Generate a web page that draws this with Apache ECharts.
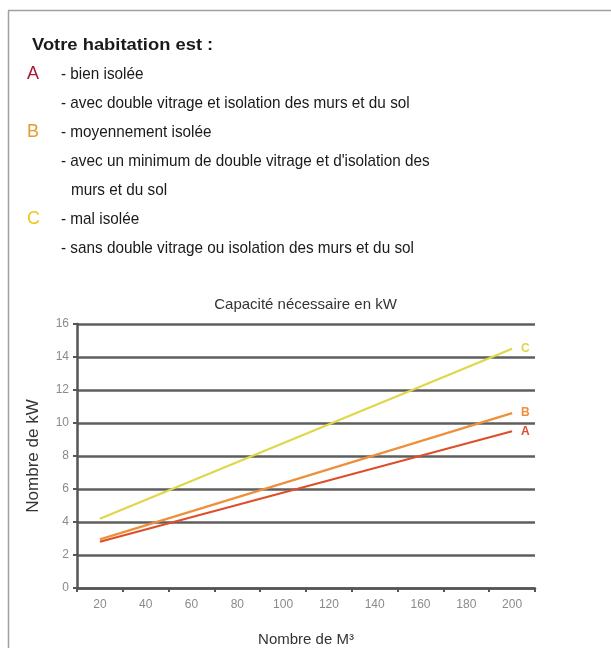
<!DOCTYPE html>
<html>
<head>
<meta charset="utf-8">
<script src="https://cdn.jsdelivr.net/npm/echarts@6/dist/echarts.min.js"></script>
<style>
  html, body { margin: 0; padding: 0; background: #fff; }
  #chart { width: 611px; height: 648px; }
</style>
</head>
<body>
<div id="chart"></div>
<script>
// volumes (m3) on the x axis
const volumes = ['20', '40', '60', '80', '100', '120', '140', '160', '180', '200'];
// kW read at 20 m3 and 200 m3, straight lines in between
const serieA = [2.8, null, null, null, null, null, null, null, null, 9.5];
const serieB = [2.95, null, null, null, null, null, null, null, null, 10.6];
const serieC = [4.2, null, null, null, null, null, null, null, null, 14.5];
const yTicks = [0, 2, 4, 6, 8, 10, 12, 14, 16];

const headerLines = [
  { tag: 'A', tagColor: '#a8192f', text: '- bien isolée' },
  { tag: '', tagColor: '', text: '- avec double vitrage et isolation des murs et du sol' },
  { tag: 'B', tagColor: '#e59a35', text: '- moyennement isolée' },
  { tag: '', tagColor: '', text: "- avec un minimum de double vitrage et d'isolation des" },
  { tag: '', tagColor: '', text: '  murs et du sol' },
  { tag: 'C', tagColor: '#ecc81c', text: '- mal isolée' },
  { tag: '', tagColor: '', text: '- sans double vitrage ou isolation des murs et du sol' }
];

const fontFam = '"Liberation Sans", sans-serif';

// header drawn as graphic texts (font is narrower in the original, hence scaleX)
const graphics = [
  { type: 'line', shape: { x1: 8.5, y1: 11, x2: 8.5, y2: 648 }, style: { stroke: '#a0a0a0', lineWidth: 1.5 } },
  { type: 'line', shape: { x1: 8, y1: 10.5, x2: 611, y2: 10.5 }, style: { stroke: '#a0a0a0', lineWidth: 1.5 } },
  {
    type: 'text', x: 32, y: 45.5, scaleX: 1.08,
    style: { x: 0, y: 0, text: 'Votre habitation est :', font: 'bold 17px ' + fontFam, fill: '#1a1a1a', verticalAlign: 'middle' }
  }
];
headerLines.forEach((l, i) => {
  const y = 74 + i * 29;
  if (l.tag) {
    graphics.push({
      type: 'text', x: 27, y: y,
      style: { x: 0, y: 0, text: l.tag, font: '18px ' + fontFam, fill: l.tagColor, verticalAlign: 'middle' }
    });
  }
  graphics.push({
    type: 'text', x: l.text.startsWith('  ') ? 71 : 61, y: y, scaleX: 0.9,
    style: { x: 0, y: 0, text: l.text.trim(), font: '17px ' + fontFam, fill: '#1a1a1a', verticalAlign: 'middle' }
  });
});

function lineSerie(name, data, color) {
  return {
    name: name,
    type: 'line',
    data: data,
    connectNulls: true,
    symbol: 'none',
    lineStyle: { color: color, width: 2.2 },
    endLabel: {
      show: true,
      formatter: name,
      color: color,
      fontSize: 12,
      fontWeight: 'bold',
      distance: 9
    },
    z: 5
  };
}

const chart = echarts.init(document.getElementById('chart'));
chart.setOption({
  animation: false,
  backgroundColor: '#fff',
  graphic: graphics,
  title: {
    text: 'Capacité nécessaire en kW',
    left: 'center',
    top: 292,
    textStyle: { fontSize: 15, fontWeight: 'normal', color: '#333', fontFamily: fontFam }
  },
  grid: { left: 77, right: 76, top: 324, bottom: 56 },
  xAxis: {
    type: 'category',
    data: volumes,
    boundaryGap: true,
    name: 'Nombre de M³',
    nameLocation: 'middle',
    nameGap: 44,
    nameTextStyle: { fontSize: 15, color: '#333', fontFamily: fontFam },
    axisLine: { lineStyle: { color: '#555', width: 2.5 } },
    axisTick: { show: true, length: 4, lineStyle: { color: '#555', width: 2 } },
    axisLabel: { color: '#8a8a8a', fontSize: 12, margin: 11, fontFamily: fontFam },
    splitLine: { show: false }
  },
  yAxis: {
    type: 'value',
    min: yTicks[0],
    max: yTicks[yTicks.length - 1],
    interval: 2,
    name: 'Nombre de kW',
    nameLocation: 'middle',
    nameGap: 35,
    nameTextStyle: { fontSize: 17, color: '#333', fontFamily: fontFam },
    axisLine: { show: true, lineStyle: { color: '#555', width: 2.5 } },
    axisTick: { show: true, length: 4, lineStyle: { color: '#555', width: 2 } },
    axisLabel: { color: '#8a8a8a', fontSize: 12, margin: 8, fontFamily: fontFam },
    splitLine: { show: true, lineStyle: { color: '#5e5e5e', width: 2.5 } }
  },
  series: [
    lineSerie('A', serieA, '#dc4f2a'),
    lineSerie('B', serieB, '#ee8f3c'),
    lineSerie('C', serieC, '#e0d64a')
  ]
});
</script>
</body>
</html>
